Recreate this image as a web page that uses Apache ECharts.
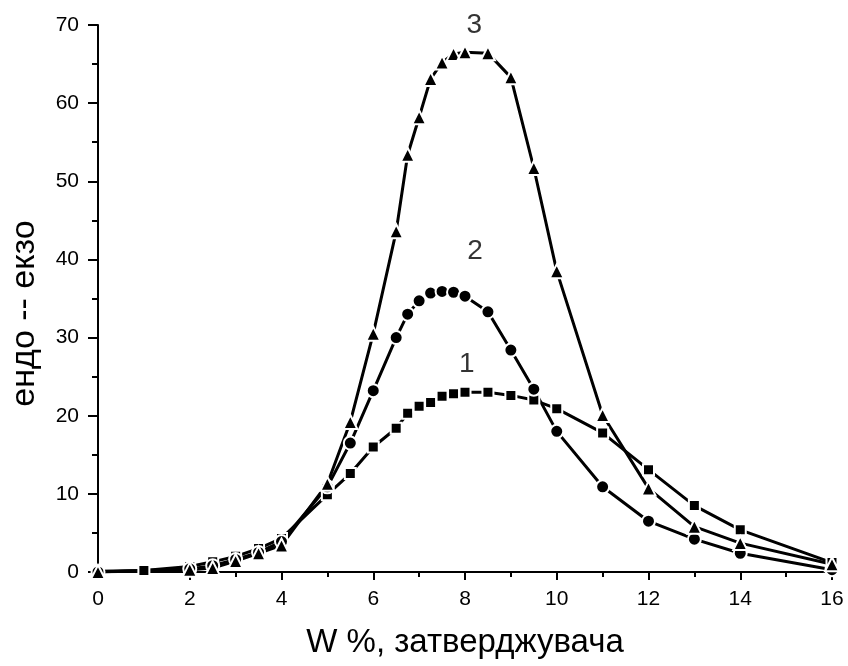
<!DOCTYPE html>
<html>
	<head>
		<meta charset="UTF-8">
		<title></title>
		<script src="https://cdn.jsdelivr.net/npm/echarts@6/dist/echarts.min.js"></script>
		<style type="text/css">
			html, body { margin: 0; padding: 0; background: #fff; }
		</style>
	</head>
	<body>
		<div id="box" style="width:848px;height:666px;"></div>

		<script type="text/javascript">
			// curve 1 - squares
			var x1 = [0, 1, 2, 2.5, 3, 3.5, 4, 5, 5.5, 6, 6.5, 6.75, 7, 7.25, 7.5, 7.75, 8, 8.5, 9, 9.5, 10, 11, 12, 13, 14, 16];
			var y1 = [0.1, 0.2, 0.7, 1.3, 2.0, 3.0, 4.3, 9.9, 12.6, 16.0, 18.4, 20.3, 21.2, 21.7, 22.5, 22.8, 23.0, 23.0, 22.6, 22.0, 20.9, 17.8, 13.1, 8.5, 5.4, 1.2];
			// curve 2 - circles
			var x2 = [0, 2, 2.5, 3, 3.5, 4, 5, 5.5, 6, 6.5, 6.75, 7, 7.25, 7.5, 7.75, 8, 8.5, 9, 9.5, 10, 11, 12, 13, 14, 16];
			var y2 = [0, 0.4, 0.8, 1.6, 2.5, 3.9, 10.9, 16.5, 23.2, 30.0, 33.0, 34.7, 35.7, 35.9, 35.8, 35.3, 33.3, 28.4, 23.4, 18.0, 10.9, 6.5, 4.2, 2.4, 0.3];
			// curve 3 - triangles
			var x3 = [0, 2, 2.5, 3, 3.5, 4, 5, 5.5, 6, 6.5, 6.75, 7, 7.25, 7.5, 7.75, 8, 8.5, 9, 9.5, 10, 11, 12, 13, 14, 16];
			var y3 = [0, 0.3, 0.5, 1.4, 2.4, 3.4, 11.3, 19.2, 30.5, 43.6, 53.4, 58.2, 63.1, 65.2, 66.3, 66.5, 66.4, 63.3, 51.7, 38.5, 20.1, 10.7, 5.8, 3.7, 1.0];
			// curve labels
			var labelText = ['1', '2', '3'];
			var labelX = [8.04, 8.22, 8.2];
			var labelY = [26.6, 41.0, 70.0];

			function pairs(xs, ys) {
				var out = [];
				for (var i = 0; i < xs.length; i++) {
					out.push([xs[i], ys[i]]);
				}
				return out;
			}

			function curve(name, xs, ys, symbol, size) {
				return {
					name: name,
					type: 'line',
					data: pairs(xs, ys),
					symbol: symbol,
					symbolSize: size,
					showAllSymbol: true,
					lineStyle: { color: '#000', width: 3 },
					itemStyle: { color: '#000', borderColor: '#fff', borderWidth: 2 },
					emphasis: { disabled: true },
					animation: false
				};
			}

			var myChart = echarts.init(document.getElementById('box'));

			var labelData = [];
			for (var i = 0; i < labelText.length; i++) {
				labelData.push({ value: [labelX[i], labelY[i]], name: labelText[i] });
			}

			var tickFont = { color: '#000', fontSize: 21, fontFamily: 'Liberation Sans' };

			var option = {
				backgroundColor: '#fff',
				grid: { left: 98, right: 16, top: 25, bottom: 94 },
				xAxis: {
					type: 'value',
					min: 0,
					max: 16,
					interval: 2,
					name: 'W %, затверджувача',
					nameLocation: 'middle',
					nameGap: 54,
					nameTextStyle: { color: '#000', fontSize: 33, fontFamily: 'Liberation Sans' },
					axisLine: { show: true, lineStyle: { color: '#000', width: 2 } },
					axisTick: { show: true, length: 8, lineStyle: { color: '#000', width: 2 } },
					minorTick: { show: true, splitNumber: 2, length: 5, lineStyle: { color: '#000', width: 2 } },
					axisLabel: Object.assign({ margin: 17 }, tickFont),
					splitLine: { show: false }
				},
				yAxis: {
					type: 'value',
					min: 0,
					max: 70,
					interval: 10,
					name: 'ендо -- екзо',
					nameLocation: 'middle',
					nameGap: 56,
					// title sits a bit below the grid middle in the original
					nameTextStyle: { color: '#000', fontSize: 34, fontFamily: 'Liberation Sans', padding: [0, 30, 0, 0] },
					axisLine: { show: true, lineStyle: { color: '#000', width: 2 } },
					axisTick: { show: true, length: 10, lineStyle: { color: '#000', width: 2 } },
					minorTick: { show: true, splitNumber: 2, length: 6, lineStyle: { color: '#000', width: 2 } },
					axisLabel: Object.assign({ margin: 19 }, tickFont),
					splitLine: { show: false }
				},
				series: [
					curve('1', x1, y1, 'rect', 11),
					curve('2', x2, y2, 'circle', 13),
					curve('3', x3, y3, 'triangle', 14),
					{
						name: 'labels',
						type: 'scatter',
						data: labelData,
						symbolSize: 0,
						silent: true,
						clip: false,
						animation: false,
						label: {
							show: true,
							position: 'inside',
							formatter: '{b}',
							color: '#000',
							fontSize: 28,
							fontFamily: 'Liberation Sans'
						}
					}
				]
			};
			myChart.setOption(option);
		</script>
	</body>
</html>
